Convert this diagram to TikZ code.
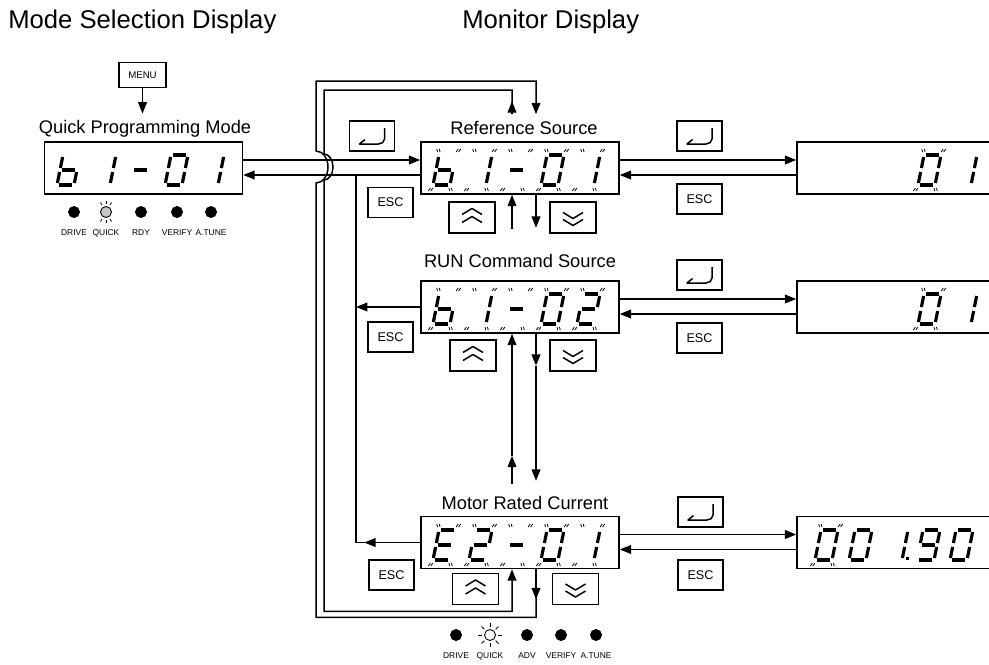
\documentclass[tikz,border=0pt]{standalone}
\usepackage{fontspec}
\setmainfont{Liberation Sans}
\usetikzlibrary{arrows.meta,positioning,calc}

% seven segment pieces, local frame 17 wide and 30 high
\newcommand\dsega{\draw[seg] (2,30) -- (15,30);}
\newcommand\dsegb{\draw[seg] (17,28) -- (17,17);}
\newcommand\dsegc{\draw[seg] (17,13) -- (17,2);}
\newcommand\dsegd{\draw[seg] (2,0) -- (15,0);}
\newcommand\dsege{\draw[seg] (0,13) -- (0,2);}
\newcommand\dsegf{\draw[seg] (0,28) -- (0,17);}
\newcommand\dsegg{\draw[seg] (2,15) -- (15,15);}
\newcommand\blinkticks{%
  \draw[blink] (-2,33) -- (-3.5,36) (0.5,33) -- (-1,36)
               (16.5,33) -- (18,36) (19,33) -- (20.5,36)
               (-2,-3) -- (-3.5,-6) (0.5,-3) -- (-1,-6)
               (16.5,-3) -- (18,-6) (19,-3) -- (20.5,-6);}
\newcommand\segdigit[3]{\begin{scope}[digitframe={#1}{#2}]
  \foreach \s in {#3} {\csname dseg\s\endcsname}\end{scope}}
\newcommand\segblink[3]{\begin{scope}[digitframe={#1}{#2}]
  \foreach \s in {#3} {\csname dseg\s\endcsname}\blinkticks\end{scope}}
% key faces
\newcommand\enterglyph[1]{\begin{scope}[shift={(#1.center)}]
  \draw[glyph] (12.5,-8) -- (12.5,3) to[out=-90,in=0] (6.5,8) -- (-12.5,8) -- (-7,3.5);
  \end{scope}}
\newcommand\upglyph[1]{\begin{scope}[shift={(#1.center)}]
  \draw[glyph] (-10,-3) -- (0,-9) -- (10,-3) (-10,5) -- (0,-1) -- (10,5);
  \end{scope}}
\newcommand\downglyph[1]{\begin{scope}[shift={(#1.center)}]
  \draw[glyph] (-10,-5) -- (0,1) -- (10,-5) (-10,2) -- (0,8) -- (10,2);
  \end{scope}}

\tikzset{
  disp/.style={draw,line width=0.9pt,minimum width=3.96cm,minimum height=1.04cm,inner sep=0pt},
  valdisp/.style={disp,minimum width=4.2cm},
  keybox/.style={draw,line width=0.85pt,minimum width=0.9cm,minimum height=0.6cm,inner sep=0pt},
  esckey/.style={keybox,font=\fontsize{7.2}{8}\selectfont},
  menukey/.style={keybox,minimum width=0.94cm,minimum height=0.5cm,font=\fontsize{5.5}{6}\selectfont},
  arrowkey/.style={keybox,minimum width=0.92cm,minimum height=0.62cm},
  glyph/.style={line width=0.85pt,line join=round},
  seg/.style={line width=1.8pt},
  blink/.style={line width=0.45pt},
  arr/.style={-{Triangle[length=6.5pt,width=5pt]},line width=0.85pt},
  wire/.style={line width=0.85pt},
  led/.style={circle,draw,line width=0.5pt,fill=black,minimum size=0.22cm,inner sep=0pt},
  ledtxt/.style={font=\fontsize{4.8}{5}\selectfont,inner sep=0pt},
  title/.style={font=\fontsize{14.6}{16}\selectfont,anchor=base west,inner sep=0pt},
  lbl/.style={font=\fontsize{10.4}{12}\selectfont,anchor=base},
  digitframe/.style 2 args={shift={(#1,#2)},yscale=-1,xslant=-0.2},
}

\begin{document}
\begin{tikzpicture}[x=0.02cm,y=-0.02cm]
  \clip (0,0) rectangle (989,664);
  \node[title] at (8,28) {Mode Selection Display};
  \node[title] at (462,28) {Monitor Display};

  % mode selection
  \node[menukey] (menu) at (142.5,75) {MENU};
  \node[lbl] (qpmlbl) at (145,133) {Quick Programming Mode};
  \node[disp] (qpm) at (143.5,168) {};
  \segdigit{57}{185}{f,g,e,d,c}
  \segdigit{93}{185}{b,c}
  \segdigit{129}{185}{g}
  \segdigit{165}{185}{a,b,c,d,e,f}
  \segdigit{201}{185}{b,c}
  \foreach \x/\nm/\f [count=\i] in {74/DRIVE/black,106/QUICK/black!22,141/RDY/black,
      177/VERIFY/black,211/A.TUNE/black} {
    \node[led,fill=\f] (la\i) at (\x,212) {};
    \node[ledtxt,below=6.3pt of la\i] {\nm};
  }
  \foreach \a in {60,90,120,240,270,300} \draw[blink] ($(la2)+(\a:8)$) -- ($(la2)+(\a:11)$);
  \draw[arr] (menu.south) -- (menu.south |- qpmlbl.north);

  % monitor displays
  \node[lbl] (reflbl) at (524,134) {Reference Source};
  \node[disp] (ref) at (520,168) {};
  \node[lbl] (runlbl) at (520,267) {RUN Command Source};
  \node[disp] (run) at (520,307) {};
  \node[lbl] (motlbl) at (525,509) {Motor Rated Current};
  \node[disp] (mot) at (520,542.5) {};
  \node[valdisp] (val1) at (902,168) {};
  \node[valdisp] (val2) at (902,307) {};
  \node[valdisp] (val3) at (902,542.5) {};

  \segblink{433}{185}{f,g,e,d,c}
  \segblink{469}{185}{b,c}
  \segblink{505}{185}{g}
  \segblink{541}{185}{a,b,c,d,e,f}
  \segblink{577}{185}{b,c}
  \segblink{433}{324}{f,g,e,d,c}
  \segblink{469}{324}{b,c}
  \segblink{505}{324}{g}
  \segblink{541}{324}{a,b,c,d,e,f}
  \segblink{577}{324}{a,b,g,e,d}
  \segblink{433}{560}{a,f,g,e,d}
  \segblink{469}{560}{a,b,g,e,d}
  \segblink{505}{560}{g}
  \segblink{541}{560}{a,b,c,d,e,f}
  \segblink{577}{560}{b,c}

  \segblink{918}{185}{a,b,c,d,e,f}
  \segdigit{954}{185}{b,c}
  \segblink{918}{324}{a,b,c,d,e,f}
  \segdigit{954}{324}{b,c}
  \segblink{815}{560}{a,b,c,d,e,f}
  \segdigit{849}{560}{a,b,c,d,e,f}
  \segdigit{885}{560}{b,c}
  \fill (905.5,556.5) rectangle (909,560);
  \segdigit{917}{560}{a,b,c,d,f,g}
  \segdigit{950}{560}{a,b,c,d,e,f}

  \foreach \x/\nm/\f [count=\i] in {456/DRIVE/black,490/QUICK/white,527/ADV/black,
      561/VERIFY/black,596/A.TUNE/black} {
    \node[led,fill=\f] (lb\i) at (\x,635) {};
    \node[ledtxt,below=6.3pt of lb\i] {\nm};
  }
  \foreach \a in {0,45,...,315} \draw[blink] ($(lb2)+(\a:8)$) -- ($(lb2)+(\a:12)$);

  % keys
  \node[keybox] (ent0) at (372,136) {};
  \node[esckey] (escL1) at (390.5,202.5) {ESC};
  \node[esckey] (escL2) at (390.5,337) {ESC};
  \node[esckey] (escL3) at (391.5,575) {ESC};
  \node[keybox] (entR1) at (699.5,136) {};
  \node[esckey] (escR1) at (699.5,199) {ESC};
  \node[keybox] (entR2) at (699.5,275) {};
  \node[esckey] (escR2) at (699.5,338) {ESC};
  \node[keybox] (entR3) at (700.5,512) {};
  \node[esckey] (escR3) at (700.5,575) {ESC};
  \node[arrowkey] (up1) at (472,217.5) {};
  \node[arrowkey] (dn1) at (573,217.5) {};
  \node[arrowkey] (up2) at (473,355.5) {};
  \node[arrowkey] (dn2) at (573,355.5) {};
  \node[arrowkey] (up3) at (475.5,589) {};
  \node[arrowkey] (dn3) at (575.5,589) {};
  \foreach \k in {ent0,entR1,entR2,entR3} {\enterglyph{\k}}
  \foreach \k in {up1,up2,up3} {\upglyph{\k}}
  \foreach \k in {dn1,dn2,dn3} {\downglyph{\k}}

  % enter / esc between displays
  \draw[arr] ($(qpm.east)+(0,-8)$) -- ($(ref.west)+(0,-8)$);
  \draw[arr] ($(ref.west)+(0,7)$) -- ($(qpm.east)+(0,7)$);
  \foreach \r/\v in {ref/val1,run/val2,mot/val3} {
    \draw[arr] ($(\r.east)+(0,-8)$) -- ($(\v.west)+(0,-8)$);
    \draw[arr] ($(\v.west)+(0,7)$) -- ($(\r.east)+(0,7)$);
  }
  \coordinate (escbus) at (356,175);
  \draw[wire] (escbus) -- (escbus |- mot.west) -- (mot.west);
  \draw[arr] (run.west) -- (run.west -| escbus);
  \draw[arr] (mot.west) -- ++(-56,0);

  % up / down between parameters
  \draw[arr] ($(ref.south)+(-8,34)$) -- ($(ref.south)+(-8,0)$);
  \draw[arr] ($(ref.south)+(16,0)$) -- ++(0,33);
  \draw[arr] ($(run.south)+(-8,150)$) -- ++(0,-28);
  \draw[arr] ($(run.south)+(-8,122)$) -- ($(run.south)+(-8,0)$);
  \draw[arr] ($(run.south)+(16,0)$) -- ++(0,32);
  \draw[arr] ($(run.south)+(16,32)$) -- ++(0,115);

  % wrap round from last to first parameter
  \draw[arr] ($(mot.south)+(16,0)$) -- ++(0,30);
  \draw[arr] ($(mot.south)+(16,0)$) -- ++(0,48) -| (316,183)
    arc[start angle=90,end angle=-90,x radius=12,y radius=16]
    -- (316,81) -| ($(ref.north)+(16,-27)$);
  \draw[arr] ($(ref.north)+(-8,-27)$) -- ++(0,-13);
  \draw[arr] ($(ref.north)+(-8,-27)$) -- ++(0,-24) -| (324,154)
    arc[start angle=-90,end angle=90,x radius=9,y radius=13]
    |- ($(mot.south)+(-8,42)$) -- ($(mot.south)+(-8,0)$);
\end{tikzpicture}
\end{document}
